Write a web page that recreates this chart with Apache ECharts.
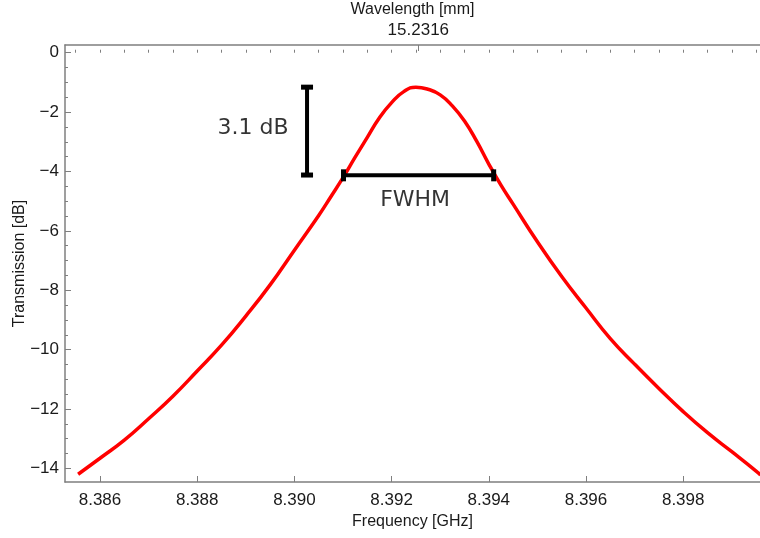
<!DOCTYPE html>
<html><head><meta charset="utf-8">
<script src="https://cdn.jsdelivr.net/npm/echarts@6/dist/echarts.min.js"></script>
<style>html,body{margin:0;padding:0;background:#fff}#c{width:760px;height:538px}</style>
</head><body><div id="c"></div>
<script>
// Data
const freqGHz = [8.38555, 8.3860, 8.3865, 8.3870, 8.3875, 8.3880, 8.3885, 8.3890, 8.3895, 8.3900, 8.3905, 8.39075, 8.3910, 8.39125, 8.3915, 8.39175, 8.3920, 8.39225, 8.3925, 8.39275, 8.3930, 8.39325, 8.3935, 8.39375, 8.3940, 8.39425, 8.3945, 8.3950, 8.3955, 8.3960, 8.3965, 8.3970, 8.3975, 8.3980, 8.3985, 8.3990, 8.3995, 8.39959];
const transmissionDb = [-14.20, -13.66, -13.05, -12.33, -11.57, -10.72, -9.85, -8.87, -7.82, -6.65, -5.48, -4.85, -4.21, -3.52, -2.85, -2.19, -1.68, -1.31, -1.16, -1.23, -1.42, -1.79, -2.30, -2.98, -3.75, -4.46, -5.10, -6.37, -7.54, -8.60, -9.63, -10.49, -11.31, -12.09, -12.80, -13.44, -14.09, -14.22];
const xTickLabels = [8.386, 8.388, 8.390, 8.392, 8.394, 8.396, 8.398];
const yTickLabels = [0, -2, -4, -6, -8, -10, -12, -14];
const topTickFreq = [8.39255];
const topTickLabels = ['15.2316'];
// annotations
const fwhmX = [8.39101, 8.39410];
const fwhmY = [-4.13, -4.13];
const dbBarX = [8.39026, 8.39026];
const dbBarY = [-1.16, -4.12];
const noteText = ['3.1 dB', 'FWHM'];
const noteX = [8.389149, 8.392484];
const noteY = [-2.54, -4.96];

const xMin = 8.38528, xMax = 8.39958, yMin = -14.46, yMax = 0.26;
const xMinor = []; for (let i = 0; i <= 28; i++) xMinor.push(+(8.3855 + i * 0.0005).toFixed(4));
const yMinor = []; for (let i = 0; i <= 28; i++) yMinor.push(-i * 0.5);

const axisColor = '#7f7f7f';
const font = 'Liberation Sans, Arial, sans-serif';
const labelColor = '#1a1a1a';
const fmtY = v => v < 0 ? '\u2212' + Math.abs(v) : String(v);

const chart = echarts.init(document.getElementById('c'), null, {renderer: 'canvas'});
chart.setOption({
  animation: false,
  grid: {left: 65, top: 45, right: 0, bottom: 56, containLabel: false, outerBoundsMode: 'none'},
  xAxis: [
    {type: 'value', min: xMin, max: xMax, position: 'bottom',
     name: 'Frequency [GHz]', nameLocation: 'middle', nameGap: 29,
     nameTextStyle: {fontFamily: font, fontSize: 16, color: labelColor},
     axisLine: {show: true, onZero: false, lineStyle: {color: axisColor, width: 1.5}},
     axisTick: {show: true, inside: true, length: 6, customValues: xTickLabels, lineStyle: {color: axisColor}},
     axisLabel: {show: true, margin: 10, fontFamily: font, fontSize: 17, color: labelColor, customValues: xTickLabels, formatter: v => v.toFixed(3)},
     splitLine: {show: false}},
    {type: 'value', min: xMin, max: xMax, position: 'bottom',
     axisLine: {show: false}, axisLabel: {show: false}, splitLine: {show: false},
     axisTick: {show: true, inside: true, length: 3, customValues: xMinor, lineStyle: {color: axisColor}}},
    {type: 'value', min: xMin, max: xMax, position: 'top',
     name: 'Wavelength [mm]', nameLocation: 'middle', nameGap: 27,
     nameTextStyle: {fontFamily: font, fontSize: 16, color: labelColor},
     axisLine: {show: true, onZero: false, lineStyle: {color: axisColor, width: 1.5}},
     axisTick: {show: true, inside: true, length: 6, customValues: topTickFreq, lineStyle: {color: axisColor}},
     axisLabel: {show: true, margin: 6, fontFamily: font, fontSize: 17, color: labelColor, customValues: topTickFreq, formatter: () => topTickLabels[0]},
     splitLine: {show: false}}
  ],
  yAxis: [
    {type: 'value', min: yMin, max: yMax, position: 'left',
     name: 'Transmission [dB]', nameLocation: 'middle', nameGap: 37, nameRotate: 90, nameMoveOverlap: false,
     nameTextStyle: {fontFamily: font, fontSize: 16, color: labelColor},
     axisLine: {show: true, onZero: false, lineStyle: {color: axisColor, width: 1.5}},
     axisTick: {show: true, inside: true, length: 6, customValues: yTickLabels, lineStyle: {color: axisColor}},
     axisLabel: {show: true, margin: 6, fontFamily: font, fontSize: 17, color: labelColor, customValues: yTickLabels, formatter: fmtY},
     splitLine: {show: false}},
    {type: 'value', min: yMin, max: yMax, position: 'left',
     axisLine: {show: false}, axisLabel: {show: false}, splitLine: {show: false},
     axisTick: {show: true, inside: true, length: 3, customValues: yMinor, lineStyle: {color: axisColor}}}
  ],
  series: [
    {type: 'line', xAxisIndex: 0, yAxisIndex: 0, smooth: 0.5, smoothConstraint: false, showSymbol: false,
     data: freqGHz.map((f, i) => [f, transmissionDb[i]]),
     lineStyle: {color: '#ff0000', width: 3.5}, z: 3},
    {type: 'line', xAxisIndex: 0, yAxisIndex: 0, showSymbol: true, symbol: 'rect', symbolSize: [5, 12],
     data: fwhmX.map((f, i) => [f, fwhmY[i]]),
     itemStyle: {color: '#000'}, lineStyle: {color: '#000', width: 4}, z: 4},
    {type: 'line', xAxisIndex: 0, yAxisIndex: 0, showSymbol: true, symbol: 'rect', symbolSize: [12, 5],
     data: dbBarX.map((f, i) => [f, dbBarY[i]]),
     itemStyle: {color: '#000'}, lineStyle: {color: '#000', width: 4}, z: 4},
    {type: 'scatter', xAxisIndex: 0, yAxisIndex: 0, symbolSize: 0,
     data: noteX.map((f, i) => ({value: [f, noteY[i]], name: noteText[i]})),
     label: {show: true, position: 'inside', formatter: p => p.name, fontFamily: 'DejaVu Sans, Verdana, sans-serif', fontSize: 22, color: '#000'}, z: 5}
  ]
});
</script></body></html>
